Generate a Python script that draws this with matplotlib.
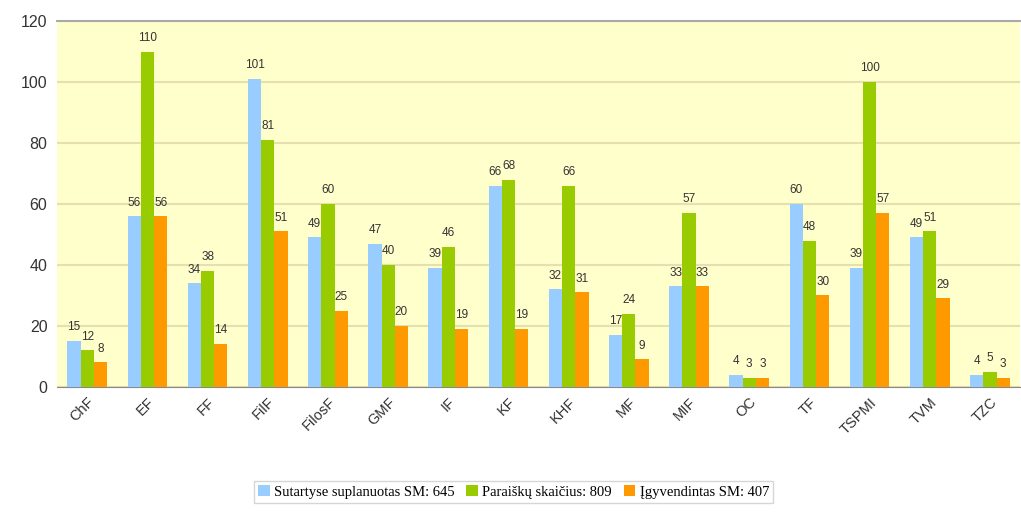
import matplotlib.pyplot as plt
import numpy as np

fakultetai = ["ChF", "EF", "FF", "FilF", "FilosF", "GMF", "IF", "KF", "KHF",
              "MF", "MIF", "OC", "TF", "TSPMI", "TVM", "TZC"]
suplanuota = [15, 56, 34, 101, 49, 47, 39, 66, 32, 17, 33, 4, 60, 39, 49, 4]
paraisku = [12, 110, 38, 81, 60, 40, 46, 68, 66, 24, 57, 3, 48, 100, 51, 5]
igyvendinta = [8, 56, 14, 51, 25, 20, 19, 19, 31, 9, 33, 3, 30, 57, 29, 3]

serijos = [
    ("Sutartyse suplanuotas SM: 645", suplanuota, "#99CCFF"),
    ("Paraiškų skaičius: 809", paraisku, "#99CC00"),
    ("Įgyvendintas SM: 407", igyvendinta, "#FF9900"),
]

plt.rcParams["font.family"] = ["Liberation Sans", "DejaVu Sans"]

fig = plt.figure(figsize=(10.21, 5.15), dpi=100)
ax = fig.add_axes([0.056, 0.249, 0.943, 0.71])
ax.set_facecolor("#FFFFCC")

x = np.arange(len(fakultetai))
w = 0.22
for i, (pav, reiksmes, spalva) in enumerate(serijos):
    poz = x + (i - 1) * w
    ax.bar(poz, reiksmes, width=w, color=spalva, label=pav, zorder=3)
    for px, v in zip(poz, reiksmes):
        ax.text(px, v + 2.5, str(v), ha="center", va="bottom", fontsize=8.5, color="#333333")

ax.set_xlim(-0.5, len(fakultetai) - 0.5)
ax.set_ylim(0, 120)
ax.set_yticks(range(0, 121, 20))
ax.yaxis.grid(True, color="#E6DFB0", linewidth=1.5, zorder=0)
ax.tick_params(axis="y", length=0, labelsize=11.5, colors="#333333", pad=7)
ax.tick_params(axis="x", length=0, labelsize=10.5, colors="#333333", pad=6)
ax.set_xticks(x)
ax.set_xticklabels(fakultetai, rotation=45, ha="right", rotation_mode="anchor")

for s in ["left", "right"]:
    ax.spines[s].set_visible(False)
ax.spines["top"].set_color("#AAAAAA")
ax.spines["top"].set_linewidth(1.5)
ax.spines["bottom"].set_color("#888888")

leg = fig.legend(loc="center", bbox_to_anchor=(0.503, 0.045), ncol=3, frameon=True,
                 fancybox=False, edgecolor="#CCCCCC", handlelength=0.8, handleheight=0.8,
                 handletextpad=0.3, columnspacing=0.8, borderpad=0.3,
                 prop={"family": "Liberation Serif", "size": 10.5})

plt.savefig("out.png")
